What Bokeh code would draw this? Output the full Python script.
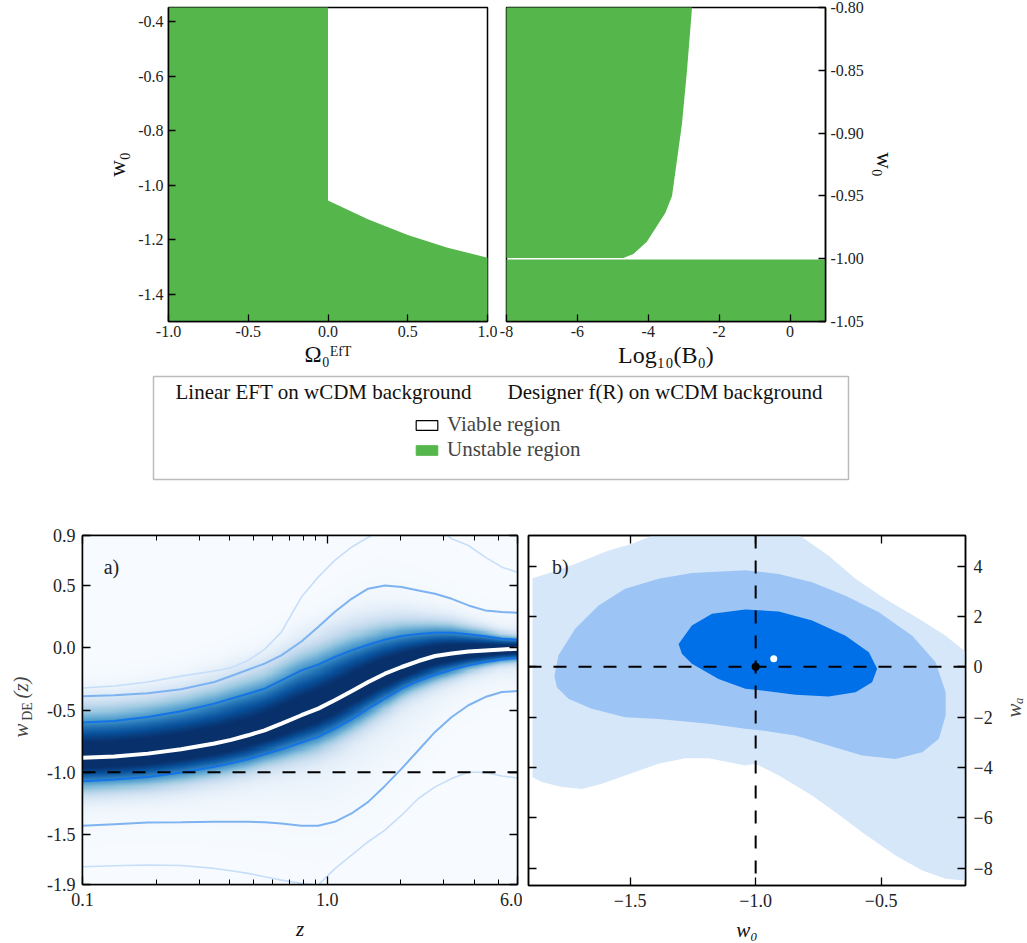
import numpy as np
from bokeh.plotting import figure
from bokeh.layouts import column, row
from bokeh.models import (Range1d, FixedTicker, LinearAxis, LogAxis, Label, Span,
                          BoxAnnotation, Legend, LegendItem, LinearColorMapper,
                          CustomJSTickFormatter)
from bokeh.palettes import Blues256
from bokeh.embed import file_html
from bokeh.resources import INLINE

SERIF = "Liberation Serif"
GREEN = "#55b74b"

# ---------------- data: top-left (linear EFT on wCDM) ----------------
eft_xlim = (-1.0, 1.0)
eft_ylim = (-1.5, -0.348)
eft_omega_bound = [0.0, 0.25, 0.5, 0.75, 1.0]
eft_w0_bound = [-1.056, -1.125, -1.183, -1.229, -1.266]
eft_xticks = [-1.0, -0.5, 0.0, 0.5, 1.0]
eft_yticks = [-1.4, -1.2, -1.0, -0.8, -0.6, -0.4]

# ---------------- data: top-right (designer f(R) on wCDM) ----------------
fr_xlim = (-8.0, 1.0)
fr_ylim = (-1.05, -0.80)
fr_logB_bound = [-4.70, -4.42, -4.04, -3.52, -3.33, -3.19, -3.05, -2.91, -2.77]
fr_w0_bound = [-0.9994, -0.9962, -0.9865, -0.9636, -0.95, -0.9214, -0.8927, -0.851, -0.8018]
fr_phantom_top = -1.0006
fr_xticks = [-8, -6, -4, -2, 0]
fr_yticks = [-1.05, -1.0, -0.95, -0.9, -0.85, -0.8]

legend_headings = ["Linear EFT on wCDM background", "Designer f(R) on wCDM background"]
legend_labels = ["Viable region", "Unstable region"]

# ---------------- data: panel a) w_DE(z) reconstruction ----------------
z_lim = (0.1, 6.0)
w_lim = (-1.9, 0.9)
z_grid = [0.1, 0.135, 0.185, 0.253, 0.346, 0.405, 0.475, 0.555, 0.650, 0.785, 0.919, 1.074,
          1.258, 1.472, 1.722, 2.016, 2.36, 2.761, 3.231, 3.782, 4.426, 5.18, 6.0]
w_mean = [-0.884, -0.874, -0.850, -0.815, -0.769, -0.740, -0.703, -0.663, -0.609, -0.542, -0.489, -0.422,
          -0.350, -0.275, -0.209, -0.155, -0.107, -0.067, -0.046, -0.030, -0.022, -0.014, -0.008]
w_up1 = [-0.601, -0.588, -0.556, -0.510, -0.449, -0.409, -0.369, -0.329, -0.262, -0.182, -0.136, -0.075,
         -0.022, 0.024, 0.064, 0.093, 0.109, 0.120, 0.120, 0.107, 0.091, 0.072, 0.064]
w_lo1 = [-1.071, -1.058, -1.037, -1.002, -0.956, -0.927, -0.895, -0.855, -0.815, -0.761, -0.716, -0.649,
         -0.575, -0.489, -0.409, -0.329, -0.267, -0.217, -0.177, -0.142, -0.115, -0.094, -0.083]
w_up2 = [-0.390, -0.382, -0.366, -0.334, -0.275, -0.227, -0.177, -0.128, -0.062, 0.050, 0.165, 0.286,
         0.392, 0.473, 0.499, 0.486, 0.459, 0.432, 0.392, 0.339, 0.299, 0.286, 0.280]
w_lo2 = [-1.429, -1.416, -1.402, -1.400, -1.397, -1.397, -1.397, -1.400, -1.410, -1.429, -1.429, -1.397,
         -1.330, -1.237, -1.109, -0.970, -0.823, -0.676, -0.556, -0.462, -0.396, -0.356, -0.348]
w_up3 = [-0.323, -0.307, -0.275, -0.228, -0.187, -0.161, -0.102, -0.014, 0.125, 0.406, 0.566, 0.700,
         0.806, 0.886, 0.96, 1.00, 1.02, 0.98, 0.873, 0.820, 0.726, 0.646, 0.606]
w_lo3 = [-1.758, -1.750, -1.744, -1.747, -1.771, -1.790, -1.811, -1.838, -1.865, -1.891, -1.905, -1.775,
         -1.664, -1.557, -1.463, -1.344, -1.210, -1.117, -1.050, -0.997, -1.002, -1.029, -1.045]
w_lcdm = -1.0
za_major = [0.1, 1.0, 6.0]
za_minor = [0.2, 0.3, 0.4, 0.5, 0.6, 0.7, 0.8, 0.9, 2.0, 3.0, 4.0, 5.0]
wa_yticks = [-1.9, -1.5, -1.0, -0.5, 0.0, 0.5, 0.9]

# ---------------- data: panel b) w0 - wa contours ----------------
b_xlim = (-1.905, -0.164)
b_ylim = (-8.69, 5.22)
c3_w0 = [-1.889, -1.889, -1.812, -1.719, -1.586, -1.493, -1.427, -1.35, -0.90, -0.815, -0.709, -0.602, -0.483,
         -0.350, -0.243, -0.170, -0.10, -0.10, -0.170, -0.243, -0.336, -0.443, -0.576, -0.682, -0.775, -0.908,
         -1.001, -1.041, -1.187, -1.280, -1.387, -1.520, -1.613, -1.692, -1.772, -1.852]
c3_wa = [-4.39, 3.52, 3.76, 4.09, 4.62, 4.89, 5.15, 5.6, 5.6, 5.15, 4.42, 3.50, 2.70,
         1.91, 1.24, 0.65, 0.2, -8.6, -8.49, -8.42, -8.09, -7.50, -6.57, -5.78, -5.11, -4.32,
         -3.85, -3.92, -3.63, -3.63, -3.85, -4.32, -4.65, -4.85, -4.78, -4.58]
c2_w0 = [-1.802, -1.786, -1.719, -1.626, -1.520, -1.387, -1.254, -1.041, -0.908, -0.775, -0.642, -0.509, -0.376,
         -0.283, -0.243, -0.243, -0.270, -0.336, -0.443, -0.576, -0.709, -0.842, -0.974, -1.041, -1.187, -1.387,
         -1.520, -1.653, -1.746, -1.792]
c2_wa = [-0.35, 0.45, 1.51, 2.44, 3.10, 3.50, 3.73, 3.84, 3.69, 3.36, 2.83, 2.17, 1.24,
         0.18, -1.01, -1.93, -2.86, -3.39, -3.66, -3.52, -3.13, -2.73, -2.53, -2.46, -2.26, -2.07,
         -2.00, -1.67, -1.27, -0.81]
c1_w0 = [-1.307, -1.254, -1.174, -1.041, -0.908, -0.775, -0.642, -0.549, -0.516, -0.536, -0.602, -0.709,
         -0.842, -0.974, -1.041, -1.148, -1.254, -1.294]
c1_wa = [0.91, 1.64, 2.11, 2.28, 2.20, 1.84, 1.24, 0.58, -0.08, -0.61, -1.01, -1.18,
         -1.11, -0.94, -0.87, -0.48, 0.12, 0.52]
lcdm_w0 = [-1.0]
lcdm_wa = [0.0]
best_w0 = [-0.928]
best_wa = [0.32]
b_xticks = [-1.5, -1.0, -0.5]
b_yticks = [-8, -6, -4, -2, 0, 2, 4]

C3, C2, C1 = "#d6e7fa", "#9cc5f5", "#0070e8"
L1, L2, L3 = "#1473e6", "#7db3f0", "#c6def9"


def fmt(code):
    return CustomJSTickFormatter(code=code)


FMT1 = fmt("return tick.toFixed(1)")
FMT2 = fmt("return tick.toFixed(2)")
FMT0 = fmt("return tick.toFixed(0)")
FMTU1 = fmt("return (tick < 0 ? '\u2212' : '') + Math.abs(tick).toFixed(1)")
FMTU0 = fmt("return (tick < -1e-9 ? '\u2212' : '') + Math.abs(tick).toFixed(0)")


def style_axis(ax, size="16px", tick=7):
    ax.major_label_text_font = SERIF
    ax.major_label_text_font_size = size
    ax.major_label_text_color = "#222222"
    ax.major_tick_in = tick
    ax.major_tick_out = 0
    ax.minor_tick_in = 0
    ax.minor_tick_out = 0
    ax.axis_line_color = "black"
    ax.axis_line_width = 1.5
    ax.major_tick_line_width = 1.3
    ax.axis_label_text_font = SERIF
    ax.axis_label_text_font_style = "normal"
    ax.axis_label_text_color = "#111111"


def base_fig(**kw):
    p = figure(toolbar_location=None, output_backend="svg", **kw)
    p.xgrid.visible = False
    p.ygrid.visible = False
    p.outline_line_color = "black"
    p.outline_line_width = 1.5
    p.background_fill_color = "white"
    return p


def strip_fig(w, h):
    s = figure(toolbar_location=None, output_backend="svg", frame_width=w, frame_height=h,
               x_range=Range1d(0, w), y_range=Range1d(h, 0),
               x_axis_location=None, y_axis_location=None,
               min_border_left=0, min_border_right=0, min_border_top=0, min_border_bottom=0)
    s.xgrid.visible = False
    s.ygrid.visible = False
    s.outline_line_color = None
    return s


def bare_axis(cls, ticks, minor=None):
    kw = dict(ticks=ticks)
    if minor is not None:
        kw["minor_ticks"] = minor
    ax = cls(ticker=FixedTicker(**kw), major_label_standoff=0)
    style_axis(ax, size="0px", tick=8)
    ax.major_label_text_alpha = 0
    return ax


# ================= top-left =================
f1 = base_fig(frame_width=319, frame_height=314, x_range=Range1d(*eft_xlim), y_range=Range1d(*eft_ylim),
              min_border_left=168, min_border_right=10, min_border_top=7, min_border_bottom=51)
xs = [eft_xlim[0] - 0.1, eft_xlim[0] - 0.1, eft_omega_bound[0]] + eft_omega_bound + [eft_xlim[1] + 0.1, eft_xlim[1] + 0.1]
ys = [eft_ylim[0] - 0.1, eft_ylim[1] + 0.1, eft_ylim[1] + 0.1] + eft_w0_bound + [eft_w0_bound[-1], eft_ylim[0] - 0.1]
f1.patch(xs, ys, fill_color=GREEN, line_color=None)
f1.xaxis.ticker = FixedTicker(ticks=eft_xticks)
f1.yaxis.ticker = FixedTicker(ticks=eft_yticks)
f1.xaxis.formatter = FMT1
f1.yaxis.formatter = FMT1
for ax in (f1.xaxis[0], f1.yaxis[0]):
    style_axis(ax)
f1.xaxis.axis_label = "Ω₀ᴱᶠᵀ"
f1.xaxis.axis_label_text_font_size = "23px"
f1.xaxis.axis_label_standoff = 2
f1.xaxis.major_label_standoff = 4
f1.yaxis.axis_label = "w₀"
f1.yaxis.axis_label_text_font_size = "23px"

# ================= top-right =================
f2 = base_fig(frame_width=319, frame_height=314, x_range=Range1d(*fr_xlim), y_range=Range1d(*fr_ylim),
              y_axis_location="right",
              min_border_left=9, min_border_right=202, min_border_top=7, min_border_bottom=51)
f2.quad(left=[fr_xlim[0] - 1], right=[fr_xlim[1] + 1], bottom=[fr_ylim[0] - 0.01], top=[fr_phantom_top],
        fill_color=GREEN, line_color=None)
xs2 = [fr_xlim[0] - 1] + fr_logB_bound + [fr_logB_bound[-1], fr_xlim[0] - 1]
ys2 = [fr_w0_bound[0]] + fr_w0_bound + [fr_ylim[1] + 0.01, fr_ylim[1] + 0.01]
f2.patch(xs2, ys2, fill_color=GREEN, line_color=None)
f2.xaxis.ticker = FixedTicker(ticks=fr_xticks)
f2.yaxis.ticker = FixedTicker(ticks=fr_yticks)
f2.xaxis.formatter = FMT0
f2.yaxis.formatter = FMT2
for ax in (f2.xaxis[0], f2.yaxis[0]):
    style_axis(ax)
f2.xaxis.axis_label = "Log₁₀(B₀)"
f2.xaxis.axis_label_text_font_size = "24px"
f2.xaxis.axis_label_standoff = 2
f2.xaxis.major_label_standoff = 4
f2.yaxis.axis_label = "w₀"
f2.yaxis.axis_label_text_font_size = "23px"

# ================= legend strip =================
leg = strip_fig(1027, 153)
leg.add_layout(BoxAnnotation(left=153, right=848, top=4, bottom=107, fill_alpha=0,
                             line_color="#222222", line_width=1.5))
for xh, txt in zip([175, 507], legend_headings):
    leg.add_layout(Label(x=xh, y=19, text=txt, text_font=SERIF, text_font_size="21px",
                         text_baseline="middle", text_align="left", text_color="#111111"))
nan = [np.nan]
r_v = leg.quad(left=nan, right=nan, top=nan, bottom=nan, fill_color="white", line_color="black", line_width=1.2)
r_u = leg.quad(left=nan, right=nan, top=nan, bottom=nan, fill_color=GREEN, line_color=GREEN)
legend = Legend(items=[LegendItem(label=legend_labels[0], renderers=[r_v]),
                       LegendItem(label=legend_labels[1], renderers=[r_u])],
                location=(413, 63), padding=0, margin=0, spacing=0,
                glyph_width=27, glyph_height=12, label_height=20, label_standoff=7,
                label_text_font=SERIF, label_text_font_size="21px",
                border_line_alpha=0, background_fill_alpha=0)
leg.add_layout(legend)

# ================= panel a =================
f3 = base_fig(frame_width=435, frame_height=349, x_axis_type="log",
              x_range=Range1d(*z_lim), y_range=Range1d(*w_lim),
              min_border_left=42, min_border_right=5, min_border_top=10, min_border_bottom=59)
NX, NY = 420, 340
lzg = np.log10(z_grid)
lz = np.linspace(np.log10(z_lim[0]), np.log10(z_lim[1]), NX)
wg = np.linspace(w_lim[0], w_lim[1], NY)
m = np.interp(lz, lzg, w_mean)
su1 = np.interp(lz, lzg, w_up1) - m
sl1 = m - np.interp(lz, lzg, w_lo1)
su2 = np.interp(lz, lzg, w_up2) - m
sl2 = m - np.interp(lz, lzg, w_lo2)
d = wg[:, None] - m[None, :]
s1 = np.where(d > 0, su1[None, :], sl1[None, :])
s2 = np.where(d > 0, su2[None, :], sl2[None, :]) / 2.0
dens = 0.88 * np.exp(-0.5 * np.abs(d / s1) ** 2.6) + 0.12 * np.exp(-0.5 * (d / s2) ** 2)
cmap = LinearColorMapper(palette=Blues256[::-1], low=0.0, high=0.95)
f3.image(image=[dens], x=z_lim[0], y=w_lim[0], dw=z_lim[1] - z_lim[0], dh=w_lim[1] - w_lim[0],
         color_mapper=cmap)
f3.line(z_grid, w_up3, line_color=L3, line_width=1.6)
f3.line(z_grid, w_lo3, line_color=L3, line_width=1.6)
f3.line(z_grid, w_up2, line_color=L2, line_width=2)
f3.line(z_grid, w_lo2, line_color=L2, line_width=2)
f3.line(z_grid, w_up1, line_color=L1, line_width=2)
f3.line(z_grid, w_lo1, line_color=L1, line_width=2)
f3.line(z_grid, w_mean, line_color="white", line_width=4)
f3.add_layout(Span(location=w_lcdm, dimension="width", line_color="black", line_width=2, line_dash="13 12"))
f3.xaxis.ticker = FixedTicker(ticks=za_major, minor_ticks=za_minor)
f3.xaxis.formatter = FMT1
f3.yaxis.ticker = FixedTicker(ticks=wa_yticks)
f3.yaxis.formatter = FMT1
for ax in (f3.xaxis[0], f3.yaxis[0]):
    style_axis(ax, size="18px", tick=8)
f3.yaxis.major_label_standoff = 7
f3.xaxis.minor_tick_in = 5
f3.xaxis.axis_label = "z"
f3.xaxis.axis_label_text_font_style = "italic"
f3.xaxis.axis_label_text_font_size = "21px"
f3.xaxis.major_label_standoff = 8
f3.xaxis.axis_label_standoff = 8
ax_top = bare_axis(LogAxis, za_major, za_minor)
ax_top.minor_tick_in = 5
f3.add_layout(ax_top, "above")
f3.add_layout(bare_axis(LinearAxis, wa_yticks), "right")
f3.add_layout(Label(x=0.122, y=0.65, text="a)", text_font=SERIF, text_font_size="20px",
                    text_baseline="middle", text_align="left", text_color="#222222"))

# left strip with the y label of panel a
sL = strip_fig(40, 418)
sL.add_layout(Label(x=20, y=195, text="w", text_font=SERIF, text_font_style="italic",
                    text_font_size="21px", angle=np.pi / 2, text_align="center", text_baseline="middle"))
sL.add_layout(Label(x=27, y=176, text="DE", text_font=SERIF, text_font_size="14px",
                    angle=np.pi / 2, text_align="center", text_baseline="middle"))
sL.add_layout(Label(x=20, y=152, text="(z)", text_font=SERIF, text_font_style="italic",
                    text_font_size="21px", angle=np.pi / 2, text_align="center", text_baseline="middle"))

# ================= panel b =================
f4 = base_fig(frame_width=437, frame_height=350, x_range=Range1d(*b_xlim), y_range=Range1d(*b_ylim),
              y_axis_location="right",
              min_border_left=6, min_border_right=35, min_border_top=10, min_border_bottom=58)
f4.patch(c3_w0, c3_wa, fill_color=C3, line_color=None)
f4.patch(c2_w0, c2_wa, fill_color=C2, line_color=None)
f4.patch(c1_w0, c1_wa, fill_color=C1, line_color=None)
f4.add_layout(Span(location=lcdm_w0[0], dimension="height", line_color="black", line_width=2, line_dash="13 12"))
f4.add_layout(Span(location=lcdm_wa[0], dimension="width", line_color="black", line_width=2, line_dash="13 12"))
f4.scatter(lcdm_w0, lcdm_wa, size=8, fill_color="black", line_color=None)
f4.scatter(best_w0, best_wa, size=7, fill_color="white", line_color=None)
f4.xaxis.ticker = FixedTicker(ticks=b_xticks)
f4.xaxis.formatter = FMTU1
f4.yaxis.ticker = FixedTicker(ticks=b_yticks)
f4.yaxis.formatter = FMTU0
for ax in (f4.xaxis[0], f4.yaxis[0]):
    style_axis(ax, size="18px", tick=8)
f4.yaxis.major_label_standoff = 8
f4.xaxis.axis_label = "w₀"
f4.xaxis.axis_label_text_font_style = "italic"
f4.xaxis.axis_label_text_font_size = "21px"
f4.xaxis.major_label_standoff = 8
f4.xaxis.axis_label_standoff = 8
f4.add_layout(bare_axis(LinearAxis, b_xticks), "above")
f4.add_layout(bare_axis(LinearAxis, b_yticks), "left")
f4.add_layout(Label(x=-1.811, y=3.98, text="b)", text_font=SERIF, text_font_size="20px",
                    text_baseline="middle", text_align="left", text_color="#222222"))

# right strip with the y label of panel b
sR = strip_fig(27, 418)
sR.add_layout(Label(x=13, y=172, text="wₐ", text_font=SERIF, text_font_style="italic",
                    text_font_size="21px", angle=np.pi / 2, text_align="center", text_baseline="middle"))

layout = column(row(f1, f2), leg, row(sL, f3, f4, sR))
open("out.html", "w").write(file_html(layout, INLINE))
